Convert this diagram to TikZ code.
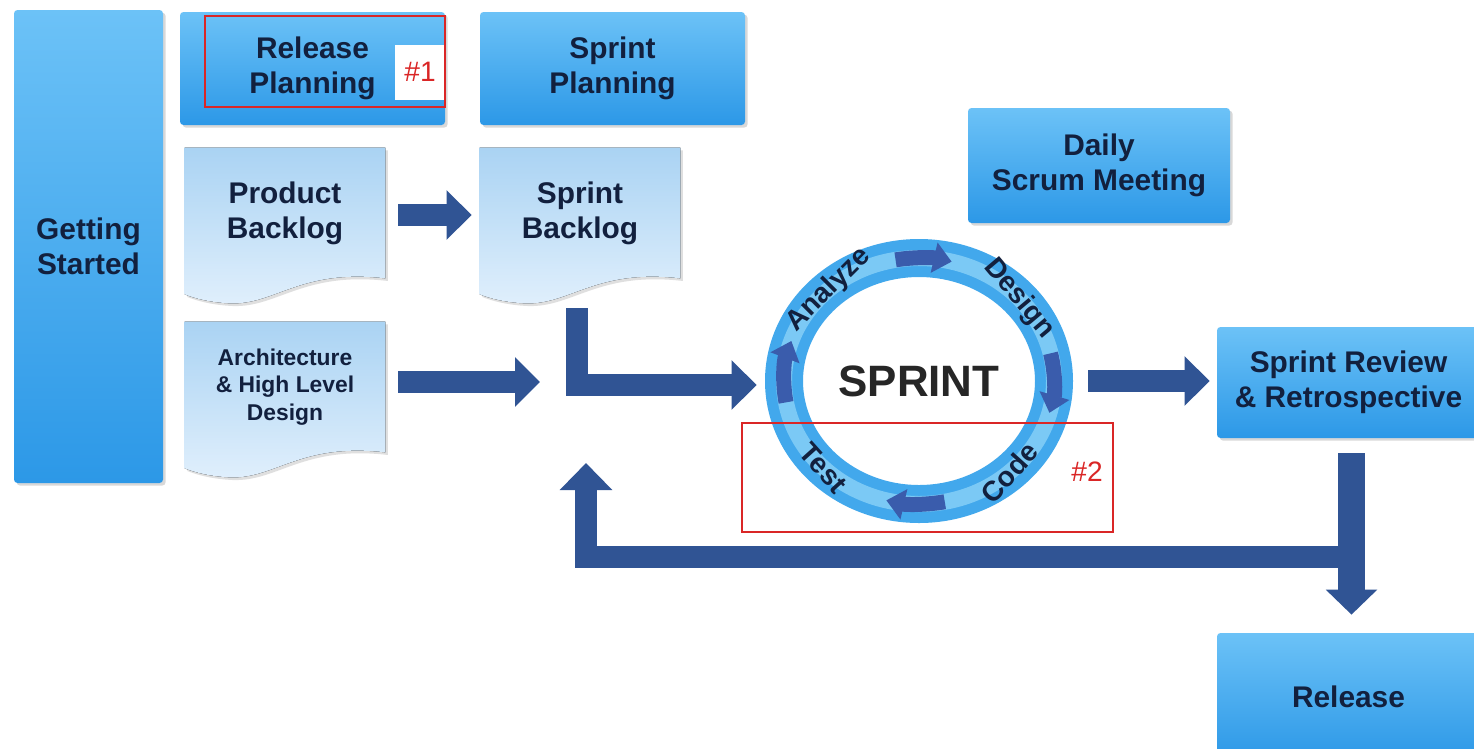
\documentclass[tikz,border=0pt]{standalone}
\usepackage{fontspec}
\setmainfont{Liberation Sans}
\usetikzlibrary{calc,positioning,shapes.geometric,arrows.meta,shadows}
\definecolor{boxtop}{RGB}{108,194,247}
\definecolor{boxbot}{RGB}{44,152,231}
\definecolor{doctop}{RGB}{170,211,243}
\definecolor{docbot}{RGB}{224,239,252}
\definecolor{arrowblue}{RGB}{48,84,148}
\definecolor{ringblue}{RGB}{66,168,236}
\definecolor{ringlight}{RGB}{138,210,248}
\definecolor{ringarrow}{RGB}{58,92,172}
\definecolor{inkblue}{RGB}{18,32,62}
\definecolor{markred}{RGB}{218,38,38}
\newcommand{\pxu}{0.02cm}
\pgfdeclarelayer{background}
\pgfsetlayers{background,main}
\newcommand{\docshape}[1]{%
  \fill[docfill] (#1.north west) -- (#1.north east) -- (#1.south east)
    .. controls +(-85,10) and +(45,-2) .. ($(#1.south west)+(45,-25)$)
    .. controls +(-20,1) and +(10,-4) .. ($(#1.south west)+(0,-16)$) -- cycle;}

\begin{document}
\begin{tikzpicture}[x=\pxu,y=\pxu,
  dims/.style 2 args={minimum width=#1*\pxu, minimum height=#2*\pxu},
  box/.style={rectangle, rounded corners=2pt, top color=boxtop, bottom color=boxbot,
    drop shadow={opacity=0.3, shadow xshift=1.5pt, shadow yshift=-1.5pt},
    text=inkblue, font=\fontsize{17}{20}\selectfont\bfseries, align=center, inner sep=0pt},
  doc/.style={inner sep=0pt, align=center, text=inkblue, font=\fontsize{17}{20}\selectfont\bfseries},
  docfill/.style={top color=doctop, bottom color=docbot,
    drop shadow={opacity=0.25, shadow xshift=1.5pt, shadow yshift=-1.5pt}},
  bigarrow/.style={arrowblue, line width=0.44cm, line join=miter,
    -{Triangle[width=0.96cm, length=0.5cm]}},
  ringtip/.style={ringarrow, line width=0.3cm, -{Triangle[width=0.6cm, length=0.36cm]}},
  steplabel/.style={inner sep=0pt, text=inkblue, font=\fontsize{16}{18}\selectfont\bfseries},
  tag/.style={inner sep=0pt, text=markred, font=\fontsize{16}{18}\selectfont}]
\useasboundingbox (0,0) rectangle (1474,-748);
\node[box, dims={149}{473}] (started) at (88.5,-246.5) {Getting\\Started};
\node[box, dims={265}{113}] (relplan) at (312.5,-68.5) {Release\\Planning};
\node[box, dims={265}{113}] (sprplan) at (612.5,-68.5) {Sprint\\Planning};
\node[box, dims={262}{115}] (daily) at (1099,-165.5) {Daily\\Scrum Meeting};
\node[box, dims={263}{111}] (review) at (1348.5,-382.5) {Sprint Review\\\& Retrospective};
\node[box, dims={263}{127}] (release) at (1348.5,-696.5) {Release};
\node[doc, dims={200}{130}] (prodlog) at (285,-213) {Product\\Backlog};
\node[doc, dims={200}{130}] (sprlog) at (580,-213) {Sprint\\Backlog};
\node[doc, dims={200}{130}, font=\fontsize{13}{15.5}\selectfont\bfseries] (arch) at (285,-387) {Architecture\\\& High Level\\Design};
\begin{pgfonlayer}{background}
  \fill[white] (0,0) rectangle (1474,-748);
  \foreach \n in {prodlog,sprlog,arch}{
    \docshape{\n}
  }
\end{pgfonlayer}
% sprint cycle
\node[ellipse, dims={308}{284}, inner sep=0pt, text=black!85,
  font=\fontsize{25}{30}\selectfont\bfseries] (sprint) at (919,-381) {SPRINT};
\fill[ringblue, even odd rule] (sprint.center) ellipse [x radius=154, y radius=142]
  (sprint.center) ellipse [x radius=116, y radius=104];
\draw[ringlight, line width=16*\pxu, opacity=0.8] (sprint.center) ellipse [x radius=135, y radius=123];
\foreach \a/\b in {100/76, 13/-15, -79/-104, 190/161}
  \draw[ringtip] ($(sprint.center)+({135*cos(\a)},{123*sin(\a)})$)
    arc[start angle=\a, end angle=\b, x radius=135, y radius=123];
\foreach \t/\a/\r in {Analyze/132/45, Design/42/-50, Code/-48/48, Test/225/-48}
  \node[steplabel, rotate=\r] (\t) at ($(sprint.center)+({135*cos(\a)},{123*sin(\a)})$) {\t};
% flow
\coordinate (merge) at (540,-382);
\coordinate (loopstart) at (1352,-557);
\coordinate (looptip) at (586,-463);
\draw[bigarrow] ($(prodlog.east)+(13,-2)$) -- ($(sprlog.west)+(-8,-2)$);
\draw[bigarrow] ($(arch.east)+(13,5)$) -- (merge);
\draw[bigarrow] ($(sprlog.south)+(-3,-30)$) |- ($(sprint.west)+(-8,-4)$);
\draw[bigarrow] ($(sprint.east)+(15,0)$) -- ($(sprint.east -| review.west)+(-7,0)$);
\draw[bigarrow, -{Triangle[width=1.02cm, length=0.54cm]}] (loopstart) -| (looptip);
\draw[bigarrow, line width=0.54cm, -{Triangle[width=1cm, length=0.5cm]}]
  ($(review.south)+(3,-15)$) -- ($(release.north)+(3,18)$);
% marks
\node[fill=white, dims={50}{55}, tag] (tagone) at (420,-72) {\#1};
\draw[markred, line width=1pt] (205,-16) rectangle (445,-107);
\draw[markred, line width=1pt] (742,-423) rectangle (1113,-532);
\node[tag] (tagtwo) at (1087,-472) {\#2};
\end{tikzpicture}
\end{document}
